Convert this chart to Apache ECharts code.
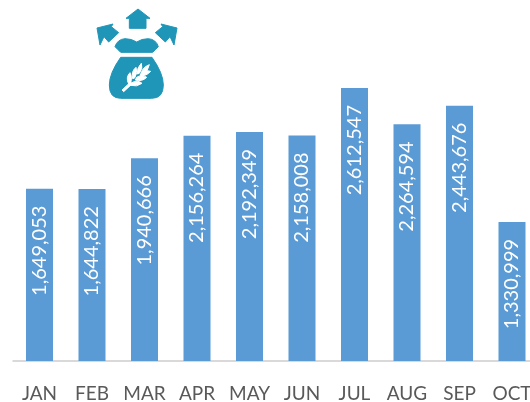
<!DOCTYPE html>
<html>
<head>
<meta charset="utf-8">
<style>
  html, body { margin: 0; padding: 0; background: #fff; }
  #chart { width: 530px; height: 402px; }
</style>
<script src="https://cdn.jsdelivr.net/npm/echarts@6/dist/echarts.min.js"></script>
</head>
<body>
<div id="chart"></div>
<script>
var months = ['JAN', 'FEB', 'MAR', 'APR', 'MAY', 'JUN', 'JUL', 'AUG', 'SEP', 'OCT'];
var tonnes = [1649053, 1644822, 1940666, 2156264, 2192349, 2158008, 2612547, 2264594, 2443676, 1330999];

var iconColor = '#1f96b8';

// sack icon, traced at 3x from the top of the picture
var iconPaths = [
    ['M138 55 L174 27 L210 55 L198 55 L198 85 L148 85 L148 55 Z', iconColor],
    ['M51 84 L99 72 L94 80 L116 98 L86 126 L72 110 L60 135 Z', iconColor],
    ['M291 84 L243 72 L248 80 L226 98 L256 126 L270 110 L282 135 Z', iconColor],
    ['M105 140 Q112 118 135 116 Q155 116 170 126 Q185 116 205 116 Q228 118 235 140 Q225 150 218 157 L122 157 Q115 150 105 140 Z', iconColor],
    ['M122 172 L216 172 Q250 220 250 255 Q250 295 215 295 L122 295 Q88 295 88 255 Q88 220 122 172 Z', iconColor],
    ['M126 270 L152 246 L157 251 L131 275 Z', '#fff'],
    ['M146 252 Q136 232 150 218 Q158 232 152 250 Z', '#fff'],
    ['M158 236 Q152 216 168 202 Q174 218 164 234 Z', '#fff'],
    ['M172 222 Q170 204 184 190 Q190 204 178 220 Z', '#fff'],
    ['M152 256 Q170 262 186 250 Q172 238 156 248 Z', '#fff'],
    ['M166 240 Q186 246 200 232 Q186 222 170 232 Z', '#fff'],
    ['M180 226 Q198 230 212 214 Q196 208 184 218 Z', '#fff'],
    ['M184 218 Q188 202 208 194 Q204 212 190 224 Z', '#fff']
];

iconPaths.forEach(function (p, i) {
    echarts.graphic.registerShape('icon' + i, echarts.graphic.extendPath(p[0], {}));
});

var chart = echarts.init(document.getElementById('chart'));
chart.setOption({
    animation: false,
    grid: { left: 13.25, right: -8.25, top: 47.5, height: 313.5, outerBoundsMode: 'none' },
    xAxis: {
        type: 'category',
        data: months,
        axisTick: { show: false },
        axisLine: { lineStyle: { color: '#d9d9d9', width: 2 } },
        axisLabel: { color: '#595959', fontFamily: 'Lato', fontSize: 19, margin: 23, interval: 0, hideOverlap: false }
    },
    yAxis: { type: 'value', min: 0, max: 3000000, show: false, splitLine: { show: false } },
    series: [{
        type: 'bar',
        data: tonnes,
        barWidth: 27,
        itemStyle: { color: '#5b9bd5' },
        label: {
            show: true,
            position: 'insideTop',
            rotate: 90,
            align: 'right',
            verticalAlign: 'middle',
            distance: 17,
            color: '#fff',
            fontFamily: 'Lato',
            fontSize: 20,
            formatter: function (p) { return p.value.toLocaleString('en-US'); }
        }
    }],
    graphic: iconPaths.map(function (p, i) {
        return {
            type: 'icon' + i,
            x: 80, y: 0, scaleX: 1 / 3, scaleY: 1 / 3,
            silent: true,
            style: { fill: p[1], stroke: p[1], lineWidth: 3 }
        };
    })
});
</script>
</body>
</html>
